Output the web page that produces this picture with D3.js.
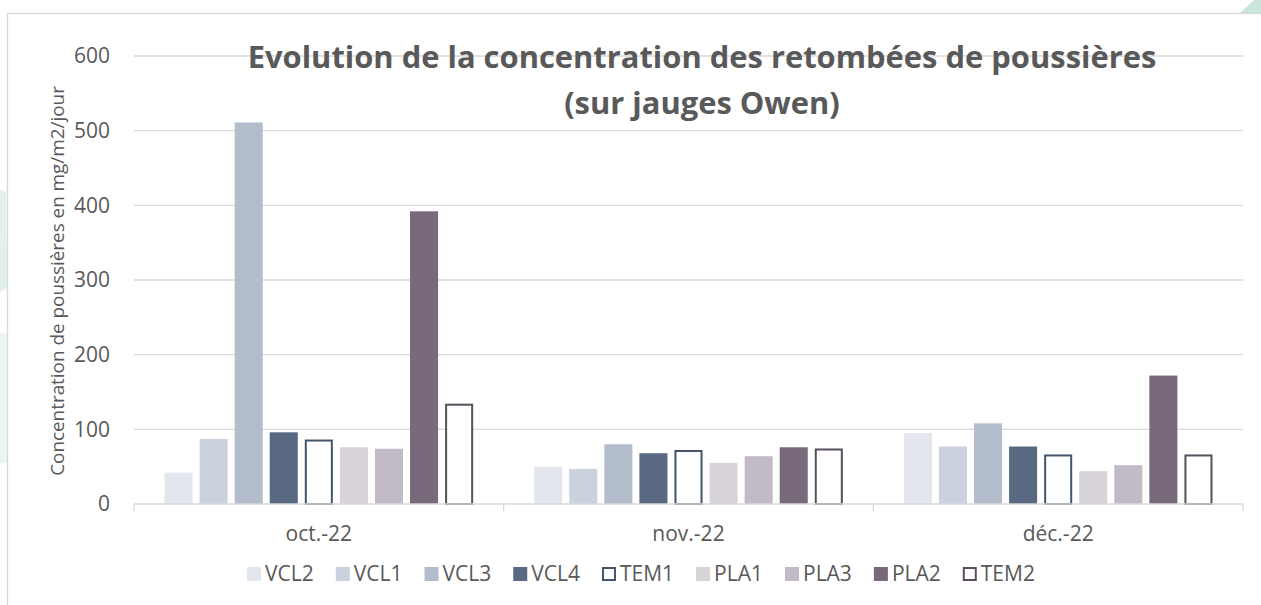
<!DOCTYPE html>
<html>
<head>
<meta charset="utf-8">
<script src="https://cdn.jsdelivr.net/npm/d3@7"></script>
<style>
  body { margin: 0; background: #fff; }
  text { font-family: "Open Sans", sans-serif; fill: #595959; }
</style>
</head>
<body>
<div id="chart"></div>
<script>
// months on the x axis
var months = ["oct.-22", "nov.-22", "déc.-22"];

// gauges, in legend order
var gauges = ["VCL2", "VCL1", "VCL3", "VCL4", "TEM1", "PLA1", "PLA3", "PLA2", "TEM2"];

// values in mg/m2/jour, one per month
var VCL2 = [42, 50, 95];
var VCL1 = [87, 47, 77];
var VCL3 = [511, 80, 108];
var VCL4 = [96, 68, 77];
var TEM1 = [85, 71, 65];
var PLA1 = [76, 55, 44];
var PLA3 = [74, 64, 52];
var PLA2 = [392, 76, 172];
var TEM2 = [133, 73, 65];

var yTicks = [0, 100, 200, 300, 400, 500, 600];

var seriesValues = [VCL2, VCL1, VCL3, VCL4, TEM1, PLA1, PLA3, PLA2, TEM2];

// fill / outline per gauge (TEM are hollow)
var fills = ["#e3e7ed", "#cbd2dd", "#b2bccb", "#586981", "#ffffff", "#d7d3d9", "#c3bac7", "#796a7b", "#ffffff"];
var strokes = [null, null, null, null, "#44546a", null, null, null, "#594e5c"];

var width = 1261,
    height = 605,
    labelSize = 21;

var svg = d3.select("#chart").append("svg")
    .attr("width", width)
    .attr("height", height);

//////////////////////////
// faint page decoration //
//////////////////////////
svg.append("path")
    .attr("d", "M0,190 L6,192 L7,288 L0,292 Z")
    .attr("fill", "#dff1e9");
svg.append("path")
    .attr("d", "M0,333 L7,334 L7,462 L0,464 Z")
    .attr("fill", "#e9f5f0");
svg.append("path")
    .attr("d", "M1240,13 L1254,0 L1261,0 L1261,13 Z")
    .attr("fill", "#c8e7da");

// chart area box
svg.append("rect")
    .attr("x", 7.5)
    .attr("y", 13.5)
    .attr("width", 1300)
    .attr("height", 700)
    .attr("fill", "#fff")
    .attr("stroke", "#d9d9d9")
    .attr("stroke-width", 1.3);

/////////////
// scales //
/////////////
var plotLeft = 134, plotRight = 1243, plotTop = 56, plotBottom = 504;

var x0 = d3.scaleBand()
    .domain(months)
    .range([plotLeft, plotRight])
    .padding(0);

var x1 = d3.scaleBand()
    .domain(gauges)
    .range([0, x0.bandwidth()])
    .paddingInner(0.2)
    .paddingOuter(0.87);

var y = d3.scaleLinear()
    .domain([0, 600])
    .range([plotBottom, plotTop]);

// gridlines
svg.append("g")
    .selectAll("line")
    .data(yTicks.filter(function(d) { return d > 0; }))
    .enter()
    .append("line")
    .attr("x1", plotLeft)
    .attr("x2", plotRight)
    .attr("y1", function(d) { return y(d); })
    .attr("y2", function(d) { return y(d); })
    .attr("stroke", "#d9d9d9")
    .attr("stroke-width", 1.3);

// y tick labels
svg.append("g")
    .selectAll("text")
    .data(yTicks)
    .enter()
    .append("text")
    .attr("x", 110)
    .attr("y", function(d) { return y(d); })
    .attr("dy", "0.35em")
    .attr("text-anchor", "end")
    .style("font-size", labelSize + "px")
    .text(function(d) { return d; });

// y axis title
var yTitle = svg.append("text")
    .attr("transform", "translate(57," + ((plotTop + plotBottom) / 2 + 1) + ") rotate(-90)")
    .attr("text-anchor", "middle")
    .attr("dy", "0.35em")
    .style("font-size", "17px")
    .text("Concentration de poussières en mg/m2/jour");
var yw = yTitle.node().getComputedTextLength();
yTitle.style("font-size", (17 * 390 / yw) + "px");

// the title, fitted to the reference width
var title = svg.append("text")
    .attr("text-anchor", "middle")
    .style("font-weight", "bold")
    .style("font-size", "30px");
title.append("tspan")
    .attr("x", 702)
    .attr("y", 68)
    .text("Evolution de la concentration des retombées de poussières");
title.append("tspan")
    .attr("x", 702)
    .attr("y", 114)
    .text("(sur jauges Owen)");
var tw = title.select("tspan").node().getComputedTextLength();
title.style("font-size", (30 * 909 / tw) + "px");

//////////
// bars //
//////////
var groups = svg.append("g")
    .selectAll("g")
    .data(gauges)
    .enter()
    .append("g");

groups.each(function(g, gi) {
    var sw = strokes[gi] ? 2 : 0;
    d3.select(this).selectAll("rect")
        .data(seriesValues[gi])
        .enter()
        .append("rect")
        .attr("x", function(d, i) { return x0(months[i]) + x1(g) + sw / 2; })
        .attr("y", function(d) { return y(d); })
        .attr("width", x1.bandwidth() - sw)
        .attr("height", function(d) { return y(0) - y(d); })
        .attr("fill", fills[gi])
        .attr("stroke", strokes[gi] || "none")
        .attr("stroke-width", sw);
});

// x axis line + ticks, drawn over the bars
svg.append("line")
    .attr("x1", plotLeft)
    .attr("x2", plotRight)
    .attr("y1", plotBottom)
    .attr("y2", plotBottom)
    .attr("stroke", "#d9d9d9")
    .attr("stroke-width", 1.3);

svg.append("g")
    .selectAll("line")
    .data([plotLeft, x0(months[1]), x0(months[2]), plotRight])
    .enter()
    .append("line")
    .attr("x1", function(d) { return d; })
    .attr("x2", function(d) { return d; })
    .attr("y1", plotBottom)
    .attr("y2", plotBottom + 7)
    .attr("stroke", "#d9d9d9")
    .attr("stroke-width", 1.3);

// month labels
svg.append("g")
    .selectAll("text")
    .data(months)
    .enter()
    .append("text")
    .attr("x", function(d) { return x0(d) + x0.bandwidth() / 2; })
    .attr("y", 541)
    .attr("text-anchor", "middle")
    .style("font-size", labelSize + "px")
    .text(function(d) { return d; });

////////////
// legend //
////////////
var legend = svg.append("g");
var lx = 0;
gauges.forEach(function(g, gi) {
    var item = legend.append("g").attr("transform", "translate(" + lx + ",0)");
    var sw = strokes[gi] ? 2 : 0;
    item.append("rect")
        .attr("x", sw / 2)
        .attr("y", 567 + sw / 2)
        .attr("width", 14 - sw)
        .attr("height", 14 - sw)
        .attr("fill", fills[gi])
        .attr("stroke", strokes[gi] || "none")
        .attr("stroke-width", sw);
    var t = item.append("text")
        .attr("x", 18)
        .attr("y", 581)
        .style("font-size", labelSize + "px")
        .text(g);
    lx += 18 + t.node().getComputedTextLength() + 22;
});
var legendW = lx - 22;
legend.attr("transform", "translate(" + (641 - legendW / 2) + ",0)");
</script>
</body>
</html>
